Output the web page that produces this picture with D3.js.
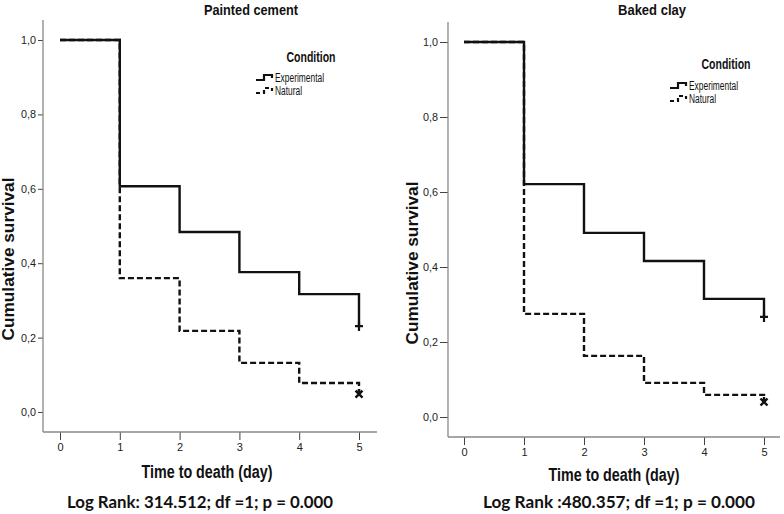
<!DOCTYPE html>
<html>
<head>
<meta charset="utf-8">
<script src="https://cdn.jsdelivr.net/npm/d3@7"></script>
<style>
  html, body { margin: 0; padding: 0; background: #fff; }
  svg { display: block; }
</style>
</head>
<body>
<svg id="chart" width="784" height="514"></svg>
<script>
// ---- Data ----
const days = [0, 1, 2, 3, 4, 5];
const yTicks = [0, 0.2, 0.4, 0.6, 0.8, 1.0];
const seriesNames = ["Experimental", "Natural"];
const paintedExperimental = [1.0, 0.607, 0.484, 0.376, 0.317, 0.231];
const paintedNatural      = [1.0, 0.360, 0.218, 0.132, 0.078, 0.048];
const bakedExperimental   = [1.0, 0.621, 0.491, 0.416, 0.315, 0.267];
const bakedNatural        = [1.0, 0.275, 0.163, 0.091, 0.059, 0.040];
const panelTitles = ["Painted cement", "Baked clay"];
const logRankTexts = ["Log Rank: 314.512; df =1; p = 0.000", "Log Rank :480.357; df =1; p = 0.000"];

const svg = d3.select("#chart");
const sans = "'Liberation Sans', Arial, sans-serif";
const fmt = d => d.toFixed(1).replace(".", ",");

function fit(sel, w) {
  return sel.attr("textLength", w).attr("lengthAdjust", "spacingAndGlyphs");
}

function drawPanel(cfg) {
  const g = svg.append("g");
  const x = d3.scaleLinear().domain([0, 5]).range([cfg.x0, cfg.x5]);
  const y = d3.scaleLinear().domain([0, 1]).range([cfg.y0, cfg.y1]);

  // axes
  const yAxis = g.append("g").attr("transform", `translate(${cfg.axisX},0)`)
    .call(d3.axisLeft(y).tickValues(yTicks).tickFormat(fmt).tickSize(cfg.yTick).tickPadding(2));
  const xAxis = g.append("g").attr("transform", `translate(0,${cfg.axisY})`)
    .call(d3.axisBottom(x).tickValues(days).tickFormat(d3.format("d")).tickSize(8).tickPadding(3));
  [yAxis, xAxis].forEach(a => {
    a.select(".domain").remove();
    a.selectAll(".tick line").attr("stroke", "#444").attr("stroke-width", 1);
    a.selectAll(".tick text").attr("fill", "#222").style("font-family", sans).style("font-size", "11px");
  });
  yAxis.selectAll(".tick text").each(function () { fit(d3.select(this), 15); });
  g.append("line").attr("x1", cfg.axisX).attr("x2", cfg.axisX).attr("y1", cfg.axisTop).attr("y2", cfg.axisY)
    .attr("stroke", "#888").attr("stroke-width", 1.3);
  g.append("line").attr("x1", cfg.axisX).attr("x2", cfg.axisRight).attr("y1", cfg.axisY).attr("y2", cfg.axisY)
    .attr("stroke", "#888").attr("stroke-width", 1.3);

  // curves
  const line = d3.line().x(d => x(d[0])).y(d => y(d[1])).curve(d3.curveStepAfter);
  const exp = days.map((d, i) => [d, cfg.exp[i]]);
  const nat = days.map((d, i) => [d, cfg.nat[i]]);
  g.append("path").attr("d", line(exp)).attr("fill", "none").attr("stroke", "#111").attr("stroke-width", 2.4);
  g.append("path").attr("d", line(nat)).attr("fill", "none").attr("stroke", "#111").attr("stroke-width", 2.4)
    .attr("stroke-dasharray", "6,3");

  // censor marks
  const ex = x(5), ey = y(cfg.exp[5]);
  g.append("path").attr("d", `M${ex - 4},${ey} H${ex + 4} M${ex},${ey - 4} V${ey + 5}`)
    .attr("stroke", "#111").attr("stroke-width", 2.2).attr("fill", "none");
  const nx = x(5), ny = y(cfg.nat[5]);
  g.append("path").attr("d", `M${nx - 3.5},${ny - 3.5} L${nx + 3.5},${ny + 3.5} M${nx + 3.5},${ny - 3.5} L${nx - 3.5},${ny + 3.5} M${nx},${ny - 5} V${ny}`)
    .attr("stroke", "#111").attr("stroke-width", 2.4).attr("fill", "none");

  // titles
  fit(g.append("text").attr("x", cfg.titleX).attr("y", 15).attr("text-anchor", "middle")
    .style("font-family", sans).style("font-weight", "bold").style("font-size", "15px").attr("fill", "#111")
    .text(cfg.title), cfg.titleW);
  fit(g.append("text").attr("transform", `translate(${cfg.yTitleX},${cfg.yTitleY}) rotate(-90)`).attr("text-anchor", "middle")
    .style("font-family", sans).style("font-weight", "bold").style("font-size", "17px")
    .attr("fill", "#111").text("Cumulative survival"), 163);
  fit(g.append("text").attr("x", cfg.xTitleX).attr("y", cfg.xTitleY).attr("text-anchor", "middle")
    .style("font-family", sans).style("font-weight", "bold").style("font-size", "18px").attr("fill", "#111")
    .text("Time to death (day)"), 131);
  fit(g.append("text").attr("x", cfg.lrX).attr("y", 508).attr("text-anchor", "middle")
    .style("font-family", "Lato, 'Open Sans', sans-serif").style("font-weight", "bold").style("font-size", "17px")
    .attr("fill", "#111").text(cfg.logRank), cfg.lrW);

  // legend
  fit(g.append("text").attr("x", cfg.condX).attr("y", cfg.condY).attr("text-anchor", "middle")
    .style("font-family", sans).style("font-weight", "bold").style("font-size", "15px").attr("fill", "#111")
    .text("Condition"), 49);
  const legW = [49, 27];
  seriesNames.forEach((name, i) => {
    const ly = cfg.legY + i * 13;
    const lx = cfg.legX;
    g.append("path").attr("d", `M${lx},${ly + 2} H${lx + 8} V${ly - 3} H${lx + 16} V${ly}`)
      .attr("fill", "none").attr("stroke", "#111").attr("stroke-width", 2.2)
      .attr("stroke-dasharray", i === 0 ? null : "4,3");
    fit(g.append("text").attr("x", lx + 19).attr("y", ly + 4)
      .style("font-family", sans).style("font-size", "12px").attr("fill", "#111").text(name), legW[i]);
  });
}

drawPanel({
  exp: paintedExperimental, nat: paintedNatural, title: panelTitles[0], logRank: logRankTexts[0],
  x0: 60, x5: 359, y0: 412, y1: 40, axisX: 43, axisY: 432, axisTop: 20, axisRight: 377, yTick: 5,
  titleX: 251, titleW: 94, yTitleX: 14, yTitleY: 259, xTitleX: 207, xTitleY: 478, lrX: 200, lrW: 266,
  condX: 311, condY: 62, legX: 256, legY: 78
});
drawPanel({
  exp: bakedExperimental, nat: bakedNatural, title: panelTitles[1], logRank: logRankTexts[1],
  x0: 464, x5: 764, y0: 417, y1: 42, axisX: 448, axisY: 437, axisTop: 22, axisRight: 780, yTick: 8,
  titleX: 652, titleW: 68, yTitleX: 418, yTitleY: 263, xTitleX: 614, xTitleY: 481, lrX: 619, lrW: 272,
  condX: 726, condY: 69, legX: 670, legY: 86
});
</script>
</body>
</html>
